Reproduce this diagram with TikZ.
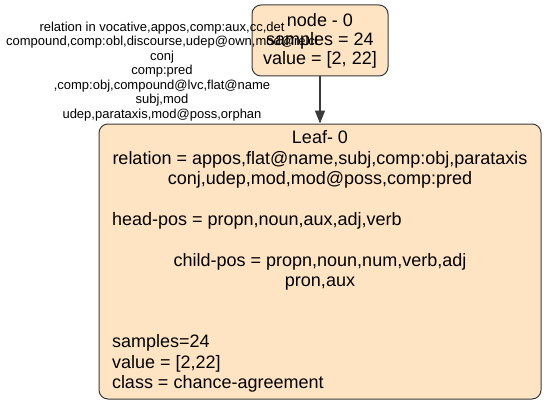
\documentclass[tikz,border=0pt]{standalone}
\usepackage{fontspec}
\setmainfont{Liberation Sans}
\usetikzlibrary{arrows.meta}
\definecolor{bisque}{HTML}{FFE4C4}
\definecolor{strokegray}{HTML}{3A3A3A}
\begin{document}
\begin{tikzpicture}[x=1pt,y=1pt,
  treebox/.style={draw=strokegray, line width=1pt, fill=bisque, rounded corners=9pt, inner sep=0pt, align=center},
  edgearrow/.style={-{Triangle[length=13pt,width=10pt]}, line width=1.3pt, draw=strokegray, fill=black},
  edgelabel/.style={font=\fontsize{13}{14.5}\selectfont, align=center, inner sep=0pt}]
\useasboundingbox (0,0) rectangle (545,405);
\node[treebox, minimum width=136pt, minimum height=71pt, font=\fontsize{18}{19}\selectfont] (root) at (320,364.5)
  {node - 0\\samples = 24\\value = [2, 22]};
\node[treebox, minimum width=442pt, minimum height=275pt, font=\fontsize{18}{20.4}\selectfont] (leaf) at (320,143.5)
  {Leaf- 0\\
   relation = appos,flat@name,subj,comp:obj,parataxis\\
   conj,udep,mod,mod@poss,comp:pred\\
   \mbox{}\\
   \makebox[416pt][l]{head-pos = propn,noun,aux,adj,verb}\\
   \mbox{}\\
   child-pos = propn,noun,num,verb,adj\\
   pron,aux\\
   \mbox{}\\
   \mbox{}\\
   \makebox[416pt][l]{samples=24}\\
   \makebox[416pt][l]{value = [2,22]}\\
   \makebox[416pt][l]{class = chance-agreement}};
\draw[edgearrow] (root) -- (leaf);
\node[edgelabel] (lbl) at (162,333.5)
  {relation in vocative,appos,comp:aux,cc,det\\
   compound,comp:obl,discourse,udep@own,mod@relcl\\
   conj\\
   comp:pred\\
   ,comp:obj,compound@lvc,flat@name\\
   subj,mod\\
   udep,parataxis,mod@poss,orphan};
\end{tikzpicture}
\end{document}
